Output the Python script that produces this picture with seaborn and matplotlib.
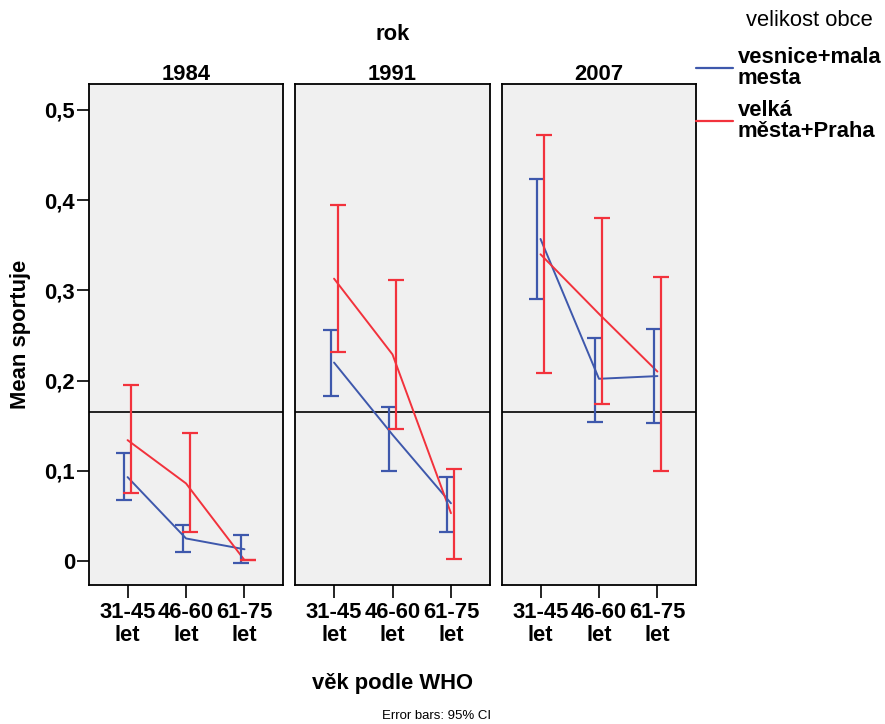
import matplotlib
matplotlib.use("Agg")
import matplotlib.pyplot as plt
from matplotlib.lines import Line2D
import seaborn as sns
import pandas as pd
import numpy as np

# ---- data ----
years = ["1984", "1991", "2007"]
age_groups = ["31-45\nlet", "46-60\nlet", "61-75\nlet"]
groups = ["vesnice+mala\nmesta", "velká\nměsta+Praha"]

blue_mean = {"1984": [0.093, 0.025, 0.013], "1991": [0.220, 0.140, 0.064], "2007": [0.357, 0.202, 0.205]}
blue_lo = {"1984": [0.068, 0.010, -0.002], "1991": [0.183, 0.100, 0.032], "2007": [0.290, 0.154, 0.153]}
blue_hi = {"1984": [0.120, 0.040, 0.029], "1991": [0.256, 0.171, 0.093], "2007": [0.423, 0.247, 0.257]}

red_mean = {"1984": [0.134, 0.086, 0.001], "1991": [0.313, 0.229, 0.053], "2007": [0.340, 0.274, 0.210]}
red_lo = {"1984": [0.075, 0.032, 0.001], "1991": [0.232, 0.146, 0.002], "2007": [0.208, 0.174, 0.100]}
red_hi = {"1984": [0.195, 0.142, 0.001], "1991": [0.395, 0.312, 0.102], "2007": [0.472, 0.380, 0.315]}

ref_line = 0.165

colors = {groups[0]: "#3e58ac", groups[1]: "#f2323c"}
dodge = {groups[0]: -0.06, groups[1]: 0.06}

rows = []
for y in years:
    for g, (m, lo, hi) in zip(groups, [(blue_mean, blue_lo, blue_hi), (red_mean, red_lo, red_hi)]):
        for i, a in enumerate(age_groups):
            rows.append(dict(rok=y, obec=g, age=a, xi=i, mean=m[y][i], lo=lo[y][i], hi=hi[y][i]))
df = pd.DataFrame(rows)

sns.set_theme(style="white")
plt.rcParams["font.family"] = ["Liberation Sans", "DejaVu Sans"]
plt.rcParams.update({"text.color": "black", "axes.labelcolor": "black",
                     "xtick.color": "black", "ytick.color": "black"})
FS = 15.8

g = sns.FacetGrid(df, col="rok", col_order=years, sharey=True, height=5, aspect=0.4)


def draw(data, **kw):
    ax = plt.gca()
    sns.lineplot(data=data, x="xi", y="mean", hue="obec", hue_order=groups,
                 palette=colors, estimator=None, errorbar=None, legend=False,
                 lw=1.4, ax=ax, sort=False)
    for grp in groups:
        d = data[data.obec == grp]
        ax.errorbar(d.xi + dodge[grp], d["mean"],
                    yerr=[d["mean"] - d.lo, d.hi - d["mean"]],
                    fmt="none", ecolor=colors[grp], elinewidth=1.6,
                    capsize=5.5, capthick=1.6, zorder=3)
    ax.axhline(ref_line, color="#222222", lw=1.4, zorder=1)


g.map_dataframe(draw)

for k, ax in enumerate(g.axes.flat):
    ax.set_facecolor("#f0f0f0")
    ax.set_xlim(-0.66, 2.66)
    ax.set_ylim(-0.0266, 0.5288)
    for s in ax.spines.values():
        s.set_visible(True)
        s.set_color("black")
        s.set_linewidth(1.3)
    ax.set_xticks(range(3))
    ax.set_xticklabels(age_groups, fontsize=FS, fontweight="bold", linespacing=1.12, color="black")
    ax.tick_params(axis="x", direction="out", length=9, width=1.2, color="black", bottom=True, pad=3)
    ax.set_title(years[k], fontsize=FS, fontweight="bold", pad=3, color="black")
    ax.set_xlabel("")
    ax.set_ylabel("")
    if k == 0:
        ax.set_yticks([0, 0.1, 0.2, 0.3, 0.4, 0.5])
        ax.set_yticklabels(["0", "0,1", "0,2", "0,3", "0,4", "0,5"], fontsize=FS, fontweight="bold", color="black")
        ax.tick_params(axis="y", direction="out", length=9, width=1.2, color="black", left=True, pad=1)
        ax.set_ylabel("Mean sportuje", fontsize=FS, fontweight="bold", labelpad=10, color="black")
    else:
        ax.tick_params(axis="y", left=False, labelleft=False)

fig = g.figure
fig.set_size_inches(8.85, 7.24)
fig.subplots_adjust(left=89/885, right=696/885, top=1-84/724, bottom=1-585/724, wspace=0.064)

fig.text(393/885, 1 - 34/724, "rok", ha="center", va="center", fontsize=FS, fontweight="bold")
fig.text(393/885, 1 - 683/724, "věk podle WHO", ha="center", va="center", fontsize=FS, fontweight="bold")
fig.text(437/885, 1 - 716/724, "Error bars: 95% CI", ha="center", va="center", fontsize=9.5)
fig.text(809/885, 1 - 21/724, "velikost obce", ha="center", va="center", fontsize=FS)

handles = [Line2D([], [], color=colors[gr], lw=1.6) for gr in groups]
leg = fig.legend(handles, groups, loc="upper left", bbox_to_anchor=(696/885, 1 - 47/724),
                 frameon=False, prop={"weight": "bold", "size": FS},
                 handlelength=1.7, handletextpad=0.2, labelspacing=0.5, borderaxespad=0, borderpad=0)
for t in leg.get_texts():
    t.set_linespacing(1.0)

fig.savefig("out.png", dpi=100)
